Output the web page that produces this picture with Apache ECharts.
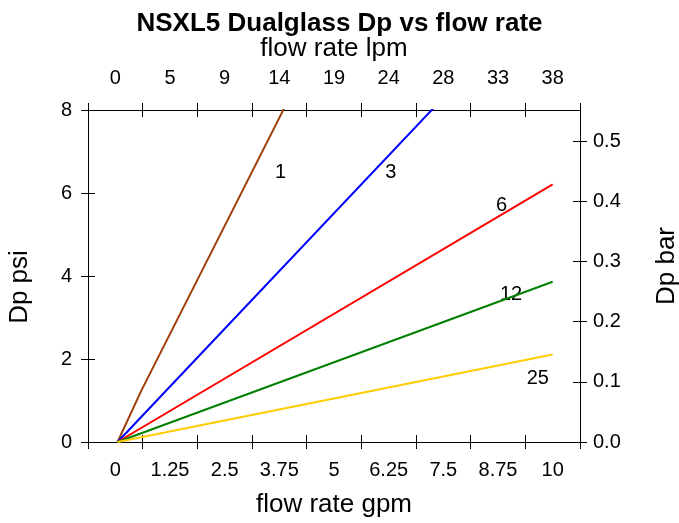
<!DOCTYPE html>
<html>
<head>
    <meta charset="UTF-8">
    <title>NSXL5 Dualglass Dp vs flow rate</title>
    <script src="https://cdn.jsdelivr.net/npm/echarts@6/dist/echarts.min.js"></script>
    <style>
        html, body { margin: 0; padding: 0; background: #fff; }
        #main { width: 679px; height: 523px; }
    </style>
</head>
<body>
<div id="main"></div>
<script type="text/javascript">
    // axis tick labels
    var gpmLabels = ['0', '1.25', '2.5', '3.75', '5', '6.25', '7.5', '8.75', '10'];
    var lpmLabels = ['0', '5', '9', '14', '19', '24', '28', '33', '38'];

    // curves: flow (gpm) -> Dp (psi), one per micron rating
    var flow1 = [0.05, 0.6, 10];
    var dp1 = [0, 1.25, 20.83];
    var flow3 = [0.05, 10];
    var dp3 = [0, 11.08];
    var flow6 = [0.05, 10];
    var dp6 = [0, 6.21];
    var flow12 = [0.05, 10];
    var dp12 = [0, 3.86];
    var flow25 = [0.05, 10];
    var dp25 = [0, 2.11];

    // curve labels and where they sit (gpm, psi)
    var curveNames = ['1', '3', '6', '12', '25'];
    var labelFlow = [3.78, 6.3, 8.83, 9.05, 9.66];
    var labelDp = [6.5, 6.5, 5.71, 3.56, 1.53];

    var psiToBar = 1 / 14.5038;
    var FONT = "'Liberation Sans', Arial, sans-serif";
    var colors = ['#A0400C', '#0000FF', '#FF0000', '#008000', '#FFCC00'];

    function pairs(xs, ys) {
        var out = [];
        for (var i = 0; i < xs.length; i++) out.push([xs[i], ys[i]]);
        return out;
    }

    var curves = [pairs(flow1, dp1), pairs(flow3, dp3), pairs(flow6, dp6), pairs(flow12, dp12), pairs(flow25, dp25)];

    var lineSeries = curves.map(function (d, i) {
        return {
            name: curveNames[i],
            type: 'line',
            xAxisIndex: 0,
            yAxisIndex: 0,
            data: d,
            symbol: 'none',
            clip: true,
            lineStyle: {color: colors[i], width: 2},
            silent: true
        };
    });

    var labelData = curveNames.map(function (n, i) {
        return {name: n, value: [labelFlow[i], labelDp[i]]};
    });

    var axisLineStyle = {show: true, onZero: false, lineStyle: {color: '#000', width: 1}};

    // category axis used only for ticks between the labels
    function tickAxis(pos, inside, data) {
        return {
            type: 'category',
            position: pos,
            data: data,
            boundaryGap: true,
            axisLine: axisLineStyle,
            axisTick: {show: true, inside: inside, length: 7, interval: 0, lineStyle: {color: '#000'}},
            axisLabel: {show: false},
            splitLine: {show: false}
        };
    }

    function psiAxis(inside) {
        return {
            type: 'value',
            position: 'left',
            min: 0,
            max: 8,
            interval: 2,
            axisLine: axisLineStyle,
            axisTick: {show: true, inside: inside, length: 7, lineStyle: {color: '#000'}},
            axisLabel: {show: false},
            splitLine: {show: false}
        };
    }

    function barAxis(inside) {
        return {
            type: 'value',
            position: 'right',
            min: 0,
            max: 8 * psiToBar,
            interval: 0.1,
            axisLine: axisLineStyle,
            axisTick: {show: true, inside: inside, length: 7, lineStyle: {color: '#000'}},
            axisLabel: {show: false},
            splitLine: {show: false}
        };
    }

    var nameStyle = {fontSize: 26, color: '#000', fontFamily: FONT};

    var myChart = echarts.init(document.getElementById('main'));

    var bottomAxis = tickAxis('bottom', false, gpmLabels);
    bottomAxis.axisLabel = {show: true, interval: 0, margin: 18, fontSize: 20, color: '#000', fontFamily: FONT};
    bottomAxis.name = 'flow rate gpm';
    bottomAxis.nameLocation = 'middle';
    bottomAxis.nameGap = 50;
    bottomAxis.nameTextStyle = nameStyle;

    var topAxis = tickAxis('top', false, lpmLabels);
    topAxis.axisLabel = {show: true, interval: 0, margin: 22, fontSize: 20, color: '#000', fontFamily: FONT};
    topAxis.name = 'flow rate lpm';
    topAxis.nameLocation = 'middle';
    topAxis.nameGap = 48;
    topAxis.nameTextStyle = nameStyle;

    var leftAxis = psiAxis(false);
    leftAxis.axisLabel = {show: true, margin: 16, fontSize: 20, color: '#000', fontFamily: FONT};
    leftAxis.name = 'Dp psi';
    leftAxis.nameLocation = 'middle';
    leftAxis.nameGap = 55;
    leftAxis.nameTextStyle = {fontSize: 26, color: '#000', fontFamily: FONT, padding: [0, 22, 0, 0]};

    var rightAxis = barAxis(false);
    rightAxis.axisLabel = {
        show: true, margin: 13, fontSize: 20, color: '#000', fontFamily: FONT, showMaxLabel: false,
        formatter: function (v) { return v.toFixed(1); }
    };
    rightAxis.name = 'Dp bar';
    rightAxis.nameLocation = 'middle';
    rightAxis.nameGap = 74;
    rightAxis.nameTextStyle = {fontSize: 26, color: '#000', fontFamily: FONT, padding: [0, 0, 0, 20]};

    var option = {
        animation: false,
        backgroundColor: '#fff',
        title: {
            text: 'NSXL5 Dualglass Dp vs flow rate',
            left: 'center',
            top: 6,
            textStyle: {fontSize: 26, fontWeight: 'bold', color: '#000', fontFamily: FONT}
        },
        grid: {left: 88, right: 99, top: 110, bottom: 81, outerBoundsMode: 'none'},
        xAxis: [
            {
                // data axis, hidden; 0 sits in the middle of the first band
                type: 'value',
                position: 'bottom',
                min: -0.625,
                max: 10.625,
                show: false
            },
            bottomAxis,
            tickAxis('bottom', true, gpmLabels),
            topAxis,
            tickAxis('top', true, lpmLabels)
        ],
        yAxis: [leftAxis, psiAxis(true), rightAxis, barAxis(true)],
        series: lineSeries.concat([{
            type: 'scatter',
            xAxisIndex: 0,
            yAxisIndex: 0,
            data: labelData,
            symbolSize: 0,
            itemStyle: {color: '#000'},
            silent: true,
            label: {
                show: true,
                position: 'inside',
                formatter: '{b}',
                fontSize: 20,
                color: '#000',
                opacity: 1,
                textBorderWidth: 0,
                fontFamily: FONT
            }
        }])
    };

    myChart.setOption(option);
</script>
</body>
</html>
